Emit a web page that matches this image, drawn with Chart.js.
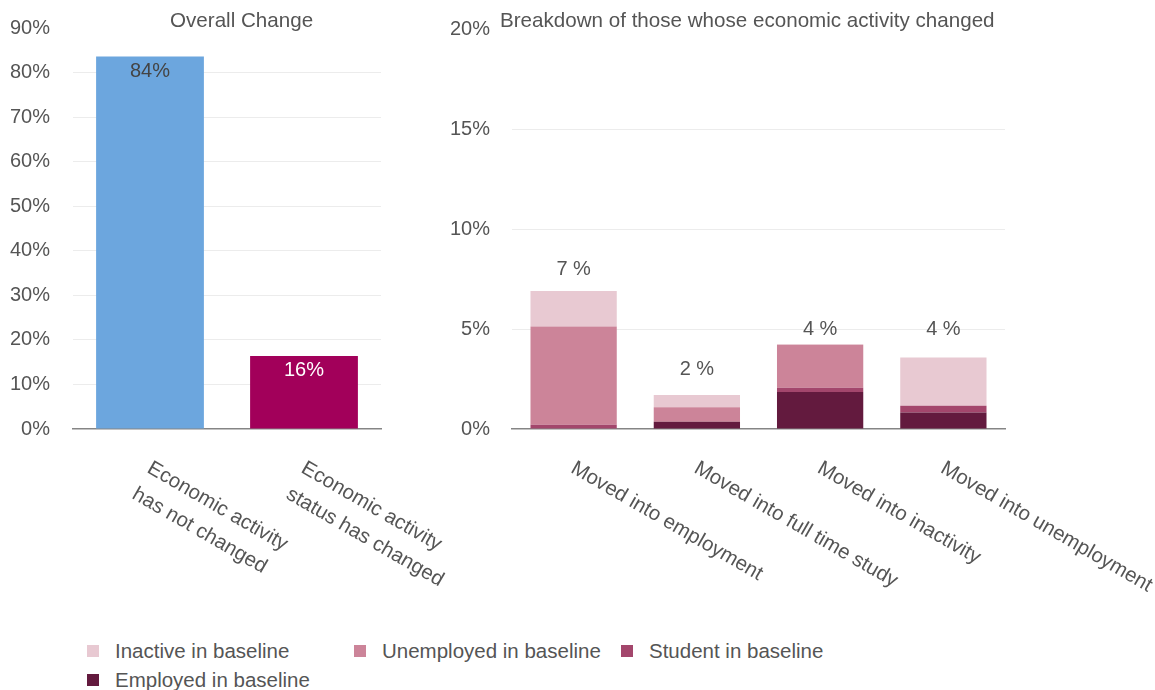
<!DOCTYPE html>
<html>
<head>
<meta charset="utf-8">
<script src="https://cdn.jsdelivr.net/npm/chart.js@4.4.1/dist/chart.umd.min.js"></script>
<style>
  html, body { margin: 0; padding: 0; background: #fff; }
  body { width: 1155px; height: 690px; position: relative; overflow: hidden;
         font-family: "Liberation Sans", Arial, sans-serif; }
  #overall { position: absolute; left: 0; top: 0; }
  #breakdown { position: absolute; left: 440px; top: 0; }
  #legend { position: absolute; left: 87px; top: 636px; width: 801px;
            display: flex; flex-wrap: wrap; }
  .item { width: 267px; height: 29px; display: flex; align-items: center;
          font-size: 20.5px; color: #555; }
  .sw { width: 12px; height: 12px; margin-right: 16px; flex: none; }
</style>
</head>
<body>
<canvas id="overall" width="470" height="610"></canvas>
<canvas id="breakdown" width="715" height="610"></canvas>
<div id="legend"></div>
<script>
// Overall change
const overallLabels = [['Economic activity', 'has not changed'], ['Economic activity', 'status has changed']];
const overallValues = [83.6, 16.4];
const overallTicks = [0, 10, 20, 30, 40, 50, 60, 70, 80, 90];

// Breakdown of those whose activity changed (stacked, % of all)
const moveLabels = ['Moved into employment', 'Moved into full time study', 'Moved into inactivity', 'Moved into unemployment'];
const employedBase = [0, 0.36, 1.85, 0.83];
const studentBase = [0.21, 0, 0.21, 0.33];
const unemployedBase = [4.91, 0.73, 2.15, 0];
const inactiveBase = [1.78, 0.61, 0.03, 2.42];
const breakdownTicks = [0, 5, 10, 15, 20];

const overallColors = ['#6ca6de', '#a2005a'];
const overallTextColors = ['#444', '#fff'];
const seriesColors = {
  inactive: '#e8c9d2',
  unemployed: '#cc8499',
  student: '#a3466c',
  employed: '#631a3e',
};

const FONT = '"Liberation Sans", Arial, sans-serif';
const textGrey = '#555';
const gridGrey = '#ececec';
const axisGrey = '#858585';
const clear = 'rgba(0,0,0,0)';

Chart.defaults.font.family = FONT;
Chart.defaults.font.size = 20;
Chart.defaults.color = textGrey;

// x labels start at the tick and run down to the right, lines left-aligned
const slantedLabels = {
  id: 'slantedLabels',
  afterDraw(chart, args, opts) {
    const { ctx } = chart;
    const xs = chart.scales.x;
    ctx.save();
    ctx.font = '20.5px ' + FONT;
    ctx.fillStyle = textGrey;
    ctx.textBaseline = 'top';
    ctx.textAlign = 'left';
    chart.data.labels.forEach((lab, i) => {
      ctx.save();
      ctx.translate(xs.getPixelForValue(i) + opts.dx, xs.top + opts.dy);
      ctx.rotate(opts.angle * Math.PI / 180);
      [].concat(lab).forEach((l, j) => ctx.fillText(l, 0, j * opts.lineHeight));
      ctx.restore();
    });
    ctx.restore();
  }
};

const panelTitle = {
  id: 'panelTitle',
  afterDraw(chart, args, opts) {
    const { ctx } = chart;
    ctx.save();
    ctx.font = '20.6px ' + FONT;
    ctx.fillStyle = textGrey;
    ctx.textAlign = 'left';
    ctx.textBaseline = 'middle';
    ctx.fillText(opts.text, opts.x, opts.y);
    ctx.restore();
  }
};

// value inside the top of each bar
const innerValues = {
  id: 'innerValues',
  afterDatasetsDraw(chart) {
    const { ctx } = chart;
    const meta = chart.getDatasetMeta(0);
    ctx.save();
    ctx.font = '20px ' + FONT;
    ctx.textAlign = 'center';
    ctx.textBaseline = 'middle';
    meta.data.forEach((bar, i) => {
      ctx.fillStyle = overallTextColors[i];
      ctx.fillText(Math.round(overallValues[i]) + '%', bar.x, bar.y + 15);
    });
    ctx.restore();
  }
};

// stack totals above the bars
const stackTotals = {
  id: 'stackTotals',
  afterDatasetsDraw(chart) {
    const { ctx } = chart;
    const ys = chart.scales.y;
    const xs = chart.scales.x;
    ctx.save();
    ctx.font = '20px ' + FONT;
    ctx.fillStyle = textGrey;
    ctx.textAlign = 'center';
    ctx.textBaseline = 'middle';
    moveLabels.forEach((_, i) => {
      const total = employedBase[i] + studentBase[i] + unemployedBase[i] + inactiveBase[i];
      const t = Math.round(total);
      ctx.fillText(t + ' %', xs.getPixelForValue(i), ys.getPixelForValue(t) - 20);
    });
    ctx.restore();
  }
};

// the gap between labels and plot comes from invisible tick marks,
// so it doesn't push the plot top down
function yAxis(ticks, width, gap) {
  const max = ticks[ticks.length - 1];
  return {
    min: 0,
    max: max,
    afterBuildTicks: s => { s.ticks = ticks.map(v => ({ value: v })); },
    afterFit: s => { s.width = width; },
    border: { display: false },
    grid: {
      drawTicks: true,
      tickLength: gap,
      tickColor: clear,
      color: c => (c.tick.value === 0 || c.tick.value === max) ? clear : gridGrey,
    },
    ticks: { padding: 0, color: textGrey, callback: v => v + '%' },
  };
}

const xAxis = {
  afterFit: s => { s.height = 0; },
  grid: { display: false, drawTicks: false },
  border: { display: true, color: axisGrey, width: 1.5 },
  ticks: { display: false },
};

new Chart(document.getElementById('overall'), {
  type: 'bar',
  data: {
    labels: overallLabels,
    datasets: [{
      data: overallValues,
      backgroundColor: overallColors,
      barPercentage: 0.7,
      categoryPercentage: 1,
    }]
  },
  options: {
    responsive: false,
    animation: false,
    layout: { padding: { top: 28, bottom: 181, left: 0, right: 89 } },
    plugins: {
      legend: { display: false },
      tooltip: { enabled: false },
      panelTitle: { text: 'Overall Change', x: 170, y: 21 },
      slantedLabels: { dx: 4, dy: 29, angle: 30, lineHeight: 30 },
    },
    scales: { x: xAxis, y: yAxis(overallTicks, 73, 23) },
  },
  plugins: [panelTitle, slantedLabels, innerValues],
});

const breakdownSets = [
  { label: 'Employed in baseline', data: employedBase, backgroundColor: seriesColors.employed },
  { label: 'Student in baseline', data: studentBase, backgroundColor: seriesColors.student },
  { label: 'Unemployed in baseline', data: unemployedBase, backgroundColor: seriesColors.unemployed },
  { label: 'Inactive in baseline', data: inactiveBase, backgroundColor: seriesColors.inactive },
];

new Chart(document.getElementById('breakdown'), {
  type: 'bar',
  data: {
    labels: moveLabels,
    datasets: breakdownSets.map(d => Object.assign({ barPercentage: 0.7, categoryPercentage: 1 }, d)),
  },
  options: {
    responsive: false,
    animation: false,
    layout: { padding: { top: 29, bottom: 181, left: 0, right: 150 } },
    plugins: {
      legend: { display: false },
      tooltip: { enabled: false },
      panelTitle: { text: 'Breakdown of those whose economic activity changed', x: 60, y: 21 },
      slantedLabels: { dx: 4, dy: 29, angle: 30, lineHeight: 30 },
    },
    scales: {
      x: Object.assign({ stacked: true }, xAxis),
      y: Object.assign({ stacked: true }, yAxis(breakdownTicks, 72, 22)),
    },
  },
  plugins: [panelTitle, slantedLabels, stackTotals],
});

// legend, top of the stack first
const legendEl = document.getElementById('legend');
breakdownSets.slice().reverse().forEach(d => {
  const item = document.createElement('div');
  item.className = 'item';
  const sw = document.createElement('span');
  sw.className = 'sw';
  sw.style.background = d.backgroundColor;
  item.appendChild(sw);
  item.appendChild(document.createTextNode(d.label));
  legendEl.appendChild(item);
});
</script>
</body>
</html>
